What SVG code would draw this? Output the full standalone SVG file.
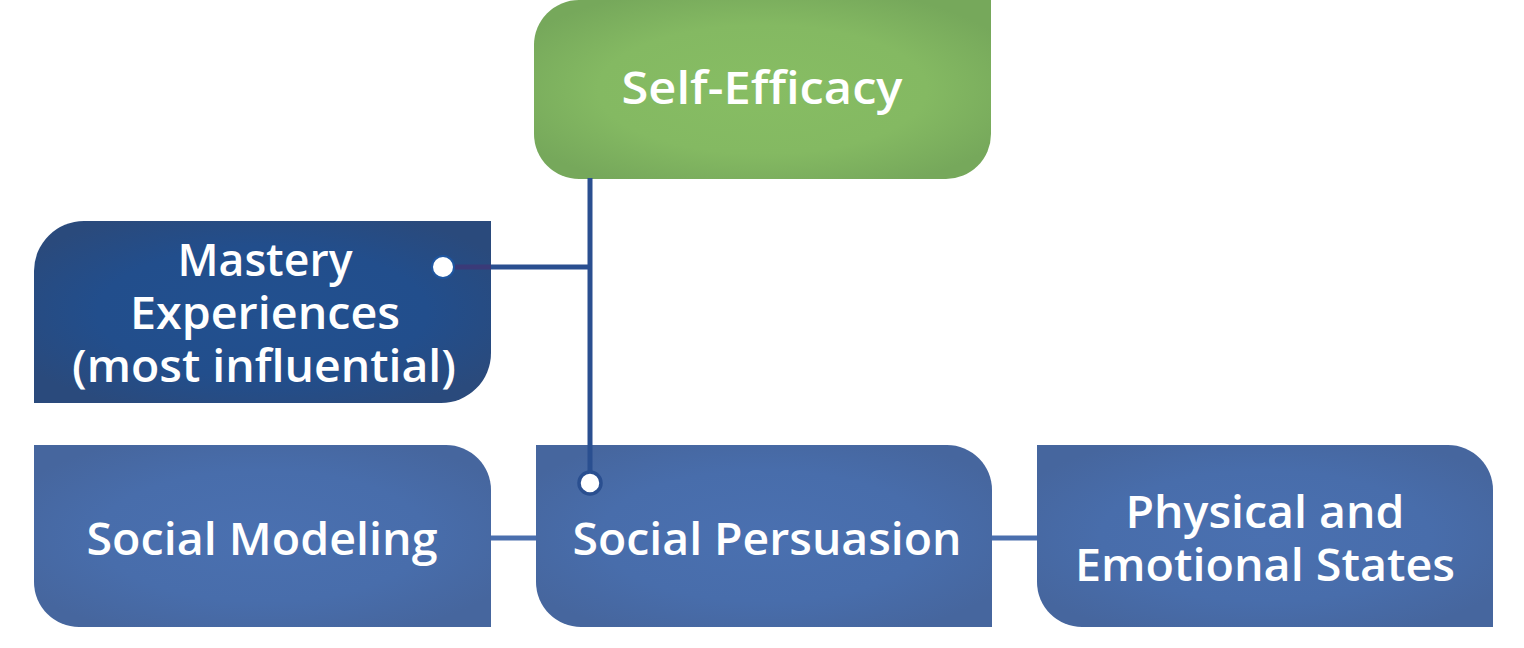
<svg xmlns="http://www.w3.org/2000/svg" width="1524" height="648" viewBox="0 0 1524 648">
  <defs>
    <radialGradient id="gGreen" cx="0.5" cy="0.5" r="0.6">
      <stop offset="0" stop-color="#87bd63"/>
      <stop offset="0.6" stop-color="#84b962"/>
      <stop offset="1" stop-color="#76a85b"/>
    </radialGradient>
    <radialGradient id="gDark" cx="0.5" cy="0.5" r="0.6">
      <stop offset="0" stop-color="#22508f"/>
      <stop offset="0.6" stop-color="#224e8c"/>
      <stop offset="1" stop-color="#2a4a7c"/>
    </radialGradient>
    <radialGradient id="gBlue" cx="0.5" cy="0.5" r="0.6">
      <stop offset="0" stop-color="#4a70b0"/>
      <stop offset="0.6" stop-color="#486dab"/>
      <stop offset="1" stop-color="#46669e"/>
    </radialGradient>
    <style>
      .lbl { font-family: "Open Sans", "Liberation Sans", sans-serif; font-size: 45px; font-weight: 600; fill: #ffffff; text-anchor: middle; }
      .conn { stroke: #2a4f90; stroke-width: 5; fill: none; }
      .link { stroke: #4a6fae; stroke-width: 5; fill: none; }
    </style>
  </defs>

  <g id="self-efficacy">
    <path d="M579,0 H991 V134 A45,45 0 0 1 946,179 H579 A45,45 0 0 1 534,134 V45 A45,45 0 0 1 579,0 Z" fill="url(#gGreen)"/>
    <text class="lbl" x="762" y="104" textLength="281" lengthAdjust="spacingAndGlyphs">Self-Efficacy</text>
  </g>

  <g id="mastery">
    <path d="M84,221 H491 V353 A50,50 0 0 1 441,403 H34 V271 A50,50 0 0 1 84,221 Z" fill="url(#gDark)"/>
    <text class="lbl" x="265" y="276" textLength="175" lengthAdjust="spacingAndGlyphs">Mastery</text>
    <text class="lbl" x="265" y="329" textLength="270" lengthAdjust="spacingAndGlyphs">Experiences</text>
    <text class="lbl" x="264" y="382" textLength="384" lengthAdjust="spacingAndGlyphs">(most influential)</text>
  </g>

  <g id="social-modeling">
    <path d="M34,445 H446 A45,45 0 0 1 491,490 V627 H79 A45,45 0 0 1 34,582 Z" fill="url(#gBlue)"/>
    <text class="lbl" x="262" y="555" textLength="351" lengthAdjust="spacingAndGlyphs">Social Modeling</text>
  </g>

  <g id="social-persuasion">
    <path d="M536,445 H947 A45,45 0 0 1 992,490 V627 H581 A45,45 0 0 1 536,582 Z" fill="url(#gBlue)"/>
    <text class="lbl" x="767" y="555" textLength="389" lengthAdjust="spacingAndGlyphs">Social Persuasion</text>
  </g>

  <g id="physical-emotional">
    <path d="M1037,445 H1448 A45,45 0 0 1 1493,490 V627 H1082 A45,45 0 0 1 1037,582 Z" fill="url(#gBlue)"/>
    <text class="lbl" x="1265" y="528" textLength="279" lengthAdjust="spacingAndGlyphs">Physical and</text>
    <text class="lbl" x="1265" y="581" textLength="380" lengthAdjust="spacingAndGlyphs">Emotional States</text>
  </g>

  <g id="connectors">
    <line class="conn" x1="590" y1="178" x2="590" y2="472"/>
    <line class="conn" x1="491" y1="267" x2="590" y2="267"/>
    <line x1="455" y1="267" x2="491" y2="267" stroke="#3a3a78" stroke-width="5"/>
    <line class="link" x1="491" y1="538" x2="536" y2="538"/>
    <line class="link" x1="992" y1="538" x2="1037" y2="538"/>
    <circle cx="443" cy="267" r="11" fill="#ffffff" stroke="#1f56a0" stroke-width="2"/>
    <circle cx="590" cy="483" r="11" fill="#ffffff" stroke="#2a4f90" stroke-width="3.5"/>
  </g>
</svg>
